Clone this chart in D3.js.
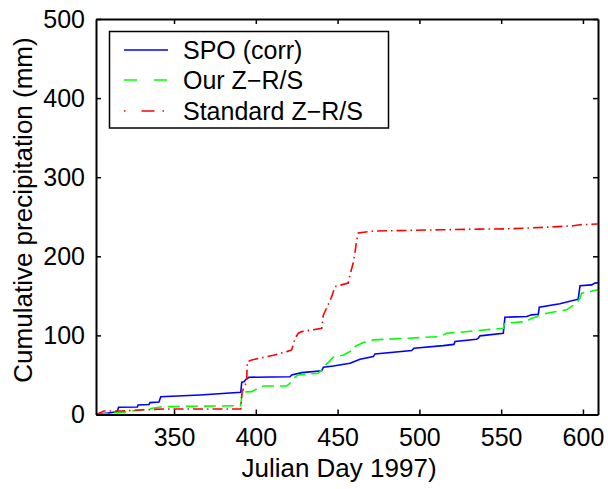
<!DOCTYPE html>
<html>
  <head>
    <meta charset="utf-8">
    <title>Cumulative precipitation</title>
    <script src="https://cdnjs.cloudflare.com/ajax/libs/d3/7.8.5/d3.min.js"></script>
    <style>
      body { margin: 0; background: #fff; }
      text { font-family: "Liberation Sans", Arial, Helvetica, sans-serif; fill: #000; }
    </style>
  </head>
  <body>

    <svg class="chart" width="608" height="489"></svg>

    <script>

      // series (day, cumulative mm)
      var spoDays = [302.5, 315.3, 316.1, 327.6, 328, 334.7, 335.3, 340.8, 341.9, 365.9, 390.8, 391.4, 392.8, 394, 395.8,
                     420.9, 421.9, 428.1, 440.3, 441.3, 447.4, 457.6, 463.7, 471.8, 472.9, 495.3, 496.7, 514.6, 521.1,
                     521.8, 535, 536, 537, 551.3, 552.3, 565.6, 568.6, 572.7, 573.3, 585.9, 597.1, 598.2, 605.3, 607.3, 609.2];
      var spoMM   = [0, 3.5, 9.1, 9.5, 12, 12.7, 15, 15.8, 22.5, 24.7, 28.1, 40.8, 41.5, 44.6, 47.1,
                     47.8, 50, 52.9, 55.4, 59.7, 61.4, 64.8, 69.9, 73.2, 76.6, 80.8, 83.8, 87.1, 88.6,
                     92.2, 95.2, 96.5, 99.4, 102.8, 123, 123.8, 126, 126.8, 135.7, 139.9, 145.8, 162.7, 163.9, 166.1, 166.5];

      var ourDays = [302.5, 321.5, 336.7, 342.8, 390.8, 391.6, 397.5, 401.5, 404.6, 418.9, 420.9, 422.9, 426, 438.2,
                     440.3, 441.3, 447.4, 453.5, 459.6, 460.6, 465.7, 471.8, 512.6, 516.7, 524.8, 551.3, 552.3, 565.6,
                     567.6, 577.8, 590, 596.1, 598.2, 599.2, 609];
      var ourMM   = [0, 3.5, 7.8, 9.9, 11.1, 28.5, 28.9, 33.2, 36.1, 36.1, 39.5, 45.8, 50, 52.2,
                     56.3, 59.7, 72.4, 75.3, 81.6, 85.8, 90.9, 94.3, 98.5, 102.8, 104, 109.1, 115.4, 117.5,
                     120.9, 128.1, 132.3, 140.8, 147.1, 153.4, 157.6];

      var stdDays = [302.5, 307.2, 317.4, 329.6, 343.9, 390.8, 391.6, 394.4, 394.8, 397.5, 410.7, 418.9, 421.9, 424,
                     426, 428.1, 440.3, 441.3, 443.9, 446.4, 448.4, 456.5, 457.6, 459.6, 460.6, 461.7, 462.7, 471.8,
                     512.6, 537, 555.4, 579.8, 594.1, 598.2, 609];
      var stdMM   = [0, 4.4, 4.4, 5.7, 7, 7, 28.9, 41.5, 66.8, 69, 74.9, 79.5, 81.6, 96.5,
                     102.8, 104.8, 109.1, 125.9, 137.3, 149.1, 161.8, 166.1, 176.6, 192.2, 204, 220.9, 229.4, 231.9,
                     233.5, 234.4, 234.8, 237, 238.6, 239.9, 240.8];

      var xTicks = [350, 400, 450, 500, 550, 600];
      var yTicks = [0, 100, 200, 300, 400, 500];

      var series = [
        { name: 'SPO (corr)',      days: spoDays, mm: spoMM, color: '#0000ff', dash: null, keyDash: null },
        { name: 'Our Z\u2212R/S',      days: ourDays, mm: ourMM, color: '#00ff00', dash: '12,6', keyDash: '13,17' },
        { name: 'Standard Z\u2212R/S', days: stdDays, mm: stdMM, color: '#ff0000', dash: '10,4,1.5,4', keyDash: '1.5,16,13,8' }
      ];

      var margin = { top: 19, right: 10, bottom: 74.5, left: 96 },
          width = 608 - margin.left - margin.right,
          height = 489 - margin.top - margin.bottom;

      var x = d3.scaleLinear().domain([302.3, 609.2]).range([0, width]);
      var y = d3.scaleLinear().domain([0, 500]).range([height, 0]);

      var svg = d3.select("svg.chart");
      var g = svg.append("g")
        .attr("transform", "translate(" + margin.left + "," + margin.top + ")");

      g.append("clipPath").attr("id", "plot")
        .append("rect").attr("width", width).attr("height", height);

      var line = d3.line()
        .x(function(d) { return x(d[0]); })
        .y(function(d) { return y(d[1]); });

      g.selectAll("path.series")
        .data(series)
        .enter()
          .append("path")
            .attr("class", "series")
            .attr("clip-path", "url(#plot)")
            .attr("fill", "none")
            .attr("stroke", function(d) { return d.color; })
            .attr("stroke-width", 1.6)
            .attr("stroke-dasharray", function(d) { return d.dash; })
            .attr("d", function(d) { return line(d3.zip(d.days, d.mm)); });

      // axes, ticks pointing inward on all four sides (matlab box)
      var fontSize = 25;
      var axBottom = g.append("g").attr("transform", "translate(0," + height + ")")
        .call(d3.axisBottom(x).tickValues(xTicks).tickSizeInner(-5).tickSizeOuter(0).tickPadding(14));
      var axLeft = g.append("g")
        .call(d3.axisLeft(y).tickValues(yTicks).tickSizeInner(-5).tickSizeOuter(0).tickPadding(11));
      var axTop = g.append("g")
        .call(d3.axisTop(x).tickValues(xTicks).tickSizeInner(-5).tickSizeOuter(0).tickFormat(""));
      var axRight = g.append("g").attr("transform", "translate(" + width + ",0)")
        .call(d3.axisRight(y).tickValues(yTicks).tickSizeInner(-5).tickSizeOuter(0).tickFormat(""));

      [axBottom, axLeft, axTop, axRight].forEach(function(a) {
        a.select(".domain").attr("stroke", "#000").attr("stroke-width", 2);
        a.selectAll(".tick line").attr("stroke", "#000").attr("stroke-width", 1.5);
        a.selectAll(".tick text").attr("font-size", fontSize).attr("font-family", null);
      });

      g.append("text")
        .attr("x", width / 2 - 8)
        .attr("y", height + 62)
        .attr("text-anchor", "middle")
        .attr("font-size", 26)
        .text("Julian Day 1997)");

      svg.append("text")
        .attr("transform", "translate(32,210) rotate(-90)")
        .attr("text-anchor", "middle")
        .attr("font-size", 26)
        .text("Cumulative precipitation (mm)");

      // legend
      var legend = svg.append("g").attr("class", "legend");
      legend.append("rect")
        .attr("x", 109.5).attr("y", 31.5)
        .attr("width", 279).attr("height", 96.5)
        .attr("fill", "#fff").attr("stroke", "#000").attr("stroke-width", 1.5);

      var rows = legend.selectAll("g.row")
        .data(series)
        .enter()
          .append("g")
            .attr("class", "row")
            .attr("transform", function(d, i) { return "translate(0," + [50, 80, 111][i] + ")"; });

      rows.append("line")
        .attr("x1", 124).attr("x2", 168)
        .attr("stroke", function(d) { return d.color; })
        .attr("stroke-width", 1.6)
        .attr("stroke-dasharray", function(d) { return d.keyDash; });

      rows.append("text")
        .attr("x", 183)
        .attr("dy", "0.36em")
        .attr("font-size", fontSize)
        .text(function(d) { return d.name; });

    </script>
  </body>
</html>
